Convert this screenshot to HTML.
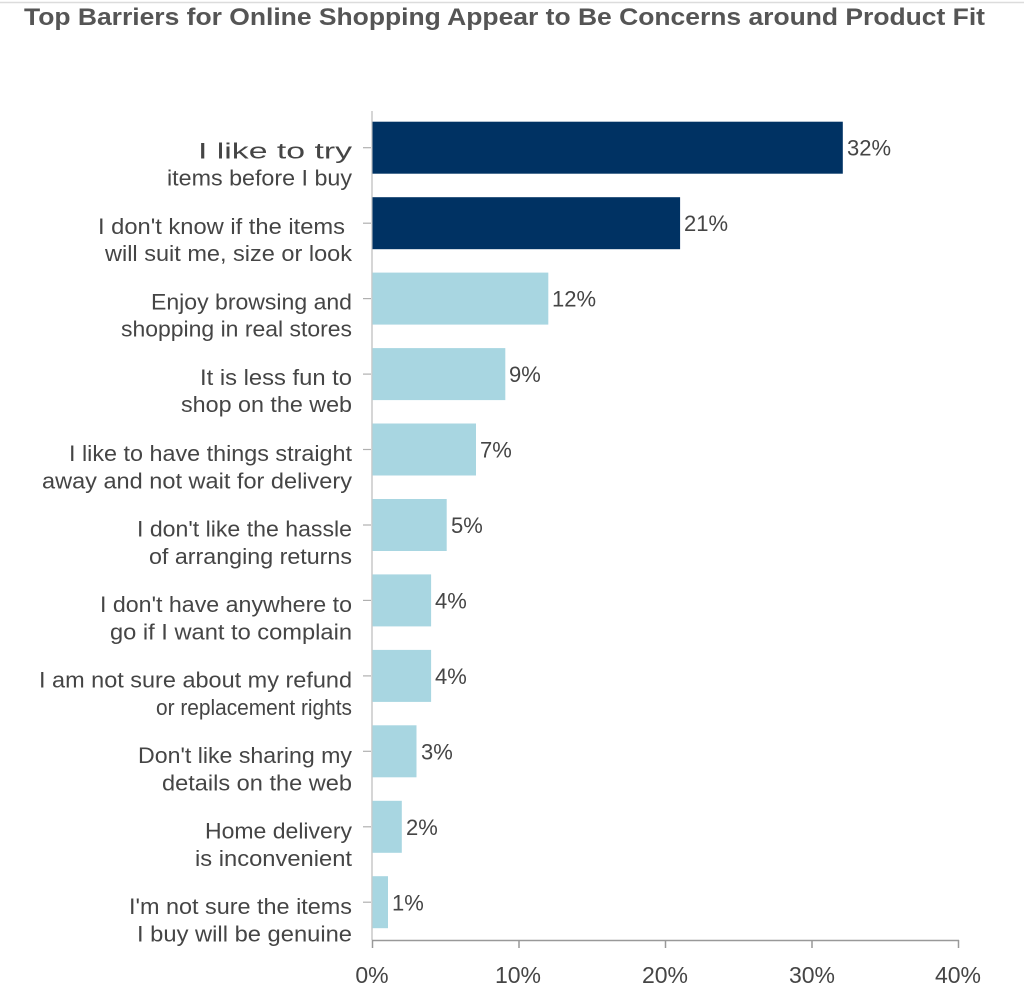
<!DOCTYPE html>
<html>
<head>
<meta charset="utf-8">
<style>
  html,body{margin:0;padding:0;background:#fff;}
  svg{display:block;}
  text{font-family:"Liberation Sans",sans-serif;}
</style>
</head>
<body>
<svg width="1024" height="999" viewBox="0 0 1024 999" xmlns="http://www.w3.org/2000/svg">
  <rect x="0" y="0" width="1024" height="999" fill="#fff"/>
  <line x1="0" y1="2.5" x2="1024" y2="2.5" stroke="#dcdcdc" stroke-width="1.5"/>
  <text x="24" y="25" font-size="24" font-weight="bold" fill="#555" textLength="961" lengthAdjust="spacingAndGlyphs">Top Barriers for Online Shopping Appear to Be Concerns around Product Fit</text>

  <!-- vertical axis -->
  <line x1="372" y1="111" x2="372" y2="940" stroke="#c8c8c8" stroke-width="1.5"/>

  <!-- bars -->
  <g>
    <rect x="372.5" y="121.7" width="470.3" height="52" fill="#003263"/>
    <rect x="372.5" y="197.2" width="307.6" height="52" fill="#003263"/>
    <rect x="372.5" y="272.6" width="175.8" height="52" fill="#a8d6e1"/>
    <rect x="372.5" y="348.1" width="132.8" height="52" fill="#a8d6e1"/>
    <rect x="372.5" y="423.5" width="103.5" height="52" fill="#a8d6e1"/>
    <rect x="372.5" y="499.0" width="74.2" height="52" fill="#a8d6e1"/>
    <rect x="372.5" y="574.4" width="58.6" height="52" fill="#a8d6e1"/>
    <rect x="372.5" y="649.9" width="58.6" height="52" fill="#a8d6e1"/>
    <rect x="372.5" y="725.3" width="44.0" height="52" fill="#a8d6e1"/>
    <rect x="372.5" y="800.8" width="29.3" height="52" fill="#a8d6e1"/>
    <rect x="372.5" y="876.2" width="15.5" height="52" fill="#a8d6e1"/>
  </g>

  <!-- left ticks -->
  <g stroke="#b0b0b0" stroke-width="1.2">
    <line x1="363" y1="147.7" x2="371" y2="147.7"/>
    <line x1="363" y1="223.2" x2="371" y2="223.2"/>
    <line x1="363" y1="298.6" x2="371" y2="298.6"/>
    <line x1="363" y1="374.1" x2="371" y2="374.1"/>
    <line x1="363" y1="449.5" x2="371" y2="449.5"/>
    <line x1="363" y1="525.0" x2="371" y2="525.0"/>
    <line x1="363" y1="600.4" x2="371" y2="600.4"/>
    <line x1="363" y1="675.9" x2="371" y2="675.9"/>
    <line x1="363" y1="751.3" x2="371" y2="751.3"/>
    <line x1="363" y1="826.8" x2="371" y2="826.8"/>
    <line x1="363" y1="902.2" x2="371" y2="902.2"/>
  </g>

  <!-- category labels -->
  <g font-size="22" fill="#454545">
    <text x="198" y="158.7" textLength="154" lengthAdjust="spacingAndGlyphs">I like to try</text>
    <text x="167" y="185.7" textLength="185" lengthAdjust="spacingAndGlyphs">items before I buy</text>

    <text x="98" y="234.2" textLength="247" lengthAdjust="spacingAndGlyphs">I don't know if the items</text>
    <text x="105" y="261.2" textLength="247" lengthAdjust="spacingAndGlyphs">will suit me, size or look</text>

    <text x="151" y="309.6" textLength="201" lengthAdjust="spacingAndGlyphs">Enjoy browsing and</text>
    <text x="121" y="336.6" textLength="231" lengthAdjust="spacingAndGlyphs">shopping in real stores</text>

    <text x="200" y="385.1" textLength="152" lengthAdjust="spacingAndGlyphs">It is less fun to</text>
    <text x="181" y="412.1" textLength="171" lengthAdjust="spacingAndGlyphs">shop on the web</text>

    <text x="69" y="461" textLength="283" lengthAdjust="spacingAndGlyphs">I like to have things straight</text>
    <text x="42" y="488.5" textLength="310" lengthAdjust="spacingAndGlyphs">away and not wait for delivery</text>

    <text x="137" y="536.5" textLength="215" lengthAdjust="spacingAndGlyphs">I don't like the hassle</text>
    <text x="149" y="564" textLength="203" lengthAdjust="spacingAndGlyphs">of arranging returns</text>

    <text x="100" y="612" textLength="252" lengthAdjust="spacingAndGlyphs">I don't have anywhere to</text>
    <text x="110" y="639.5" textLength="242" lengthAdjust="spacingAndGlyphs">go if I want to complain</text>

    <text x="39" y="687.5" textLength="313" lengthAdjust="spacingAndGlyphs">I am not sure about my refund</text>
    <text x="156" y="715" textLength="196" lengthAdjust="spacingAndGlyphs">or replacement rights</text>

    <text x="138" y="763" textLength="214" lengthAdjust="spacingAndGlyphs">Don't like sharing my</text>
    <text x="162" y="790.5" textLength="190" lengthAdjust="spacingAndGlyphs">details on the web</text>

    <text x="205" y="838.5" textLength="147" lengthAdjust="spacingAndGlyphs">Home delivery</text>
    <text x="195" y="866" textLength="157" lengthAdjust="spacingAndGlyphs">is inconvenient</text>

    <text x="129" y="914" textLength="223" lengthAdjust="spacingAndGlyphs">I'm not sure the items</text>
    <text x="137" y="941.5" textLength="215" lengthAdjust="spacingAndGlyphs">I buy will be genuine</text>
  </g>

  <!-- value labels -->
  <g font-size="22" fill="#454545">
    <text x="847" y="155.5">32%</text>
    <text x="684" y="231">21%</text>
    <text x="552" y="306.5">12%</text>
    <text x="509" y="382">9%</text>
    <text x="480" y="457.5">7%</text>
    <text x="451" y="533">5%</text>
    <text x="435" y="608.5">4%</text>
    <text x="435" y="684">4%</text>
    <text x="421" y="759.5">3%</text>
    <text x="406" y="835">2%</text>
    <text x="392" y="910.5">1%</text>
  </g>

  <!-- bottom axis -->
  <line x1="372" y1="940.5" x2="959" y2="940.5" stroke="#999" stroke-width="1.5"/>
  <g stroke="#999" stroke-width="1.5">
    <line x1="372.5" y1="940" x2="372.5" y2="948"/>
    <line x1="519" y1="940" x2="519" y2="948"/>
    <line x1="665.5" y1="940" x2="665.5" y2="948"/>
    <line x1="812" y1="940" x2="812" y2="948"/>
    <line x1="958.5" y1="940" x2="958.5" y2="948"/>
  </g>
  <g font-size="23" fill="#454545" text-anchor="middle">
    <text x="372" y="983">0%</text>
    <text x="518" y="983">10%</text>
    <text x="665" y="983">20%</text>
    <text x="812" y="983">30%</text>
    <text x="958" y="983">40%</text>
  </g>
</svg>
</body>
</html>
